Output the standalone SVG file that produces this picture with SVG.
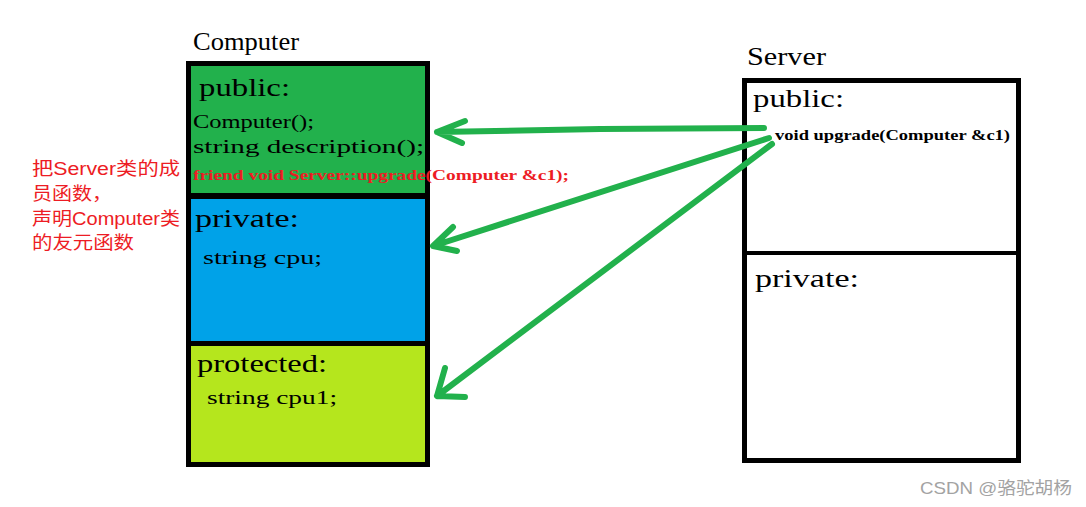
<svg xmlns="http://www.w3.org/2000/svg" width="1086" height="507" viewBox="0 0 1086 507">
<style>
.t{font-family:"Liberation Serif","Times New Roman",serif;fill:#000}
.h{font-size:25px}
.c{font-size:19px}
.b{font-size:15px;font-weight:bold}
.red{fill:#ed1c24}
.cn{font-family:"Liberation Sans","Noto Sans CJK SC",sans-serif;font-size:18px;fill:#ed1c24}
.wm{font-family:"Liberation Sans","Noto Sans CJK SC",sans-serif;font-size:17px;fill:#a3a3a3}
.arr{fill:none;stroke:#22b14c;stroke-width:6;stroke-linecap:round;stroke-linejoin:round}
</style>
<rect width="1086" height="507" fill="#fff"/>

<g id="computer">
  <text class="t h" x="193" y="50" textLength="106" lengthAdjust="spacingAndGlyphs">Computer</text>
  <rect x="186" y="61" width="244" height="406" fill="#000"/>
  <rect x="191" y="66" width="234" height="127" fill="#22b14c"/>
  <rect x="191" y="199" width="234" height="142" fill="#00a2e8"/>
  <rect x="191" y="346" width="234" height="116" fill="#b5e61d"/>
  <text class="t h" x="199" y="96" textLength="91" lengthAdjust="spacingAndGlyphs">public:</text>
  <text class="t c" x="193" y="128" textLength="121" lengthAdjust="spacingAndGlyphs">Computer();</text>
  <text class="t c" x="193" y="153" textLength="231" lengthAdjust="spacingAndGlyphs">string description();</text>
  <text class="t b red" x="193" y="180" textLength="376" lengthAdjust="spacingAndGlyphs">friend void Server::upgrade(Computer &amp;c1);</text>
  <text class="t h" x="195" y="227" textLength="104" lengthAdjust="spacingAndGlyphs">private:</text>
  <text class="t c" x="203" y="264" textLength="119" lengthAdjust="spacingAndGlyphs">string cpu;</text>
  <text class="t h" x="197" y="372" textLength="130" lengthAdjust="spacingAndGlyphs">protected:</text>
  <text class="t c" x="207" y="404" textLength="130" lengthAdjust="spacingAndGlyphs">string cpu1;</text>
</g>

<g id="server">
  <text class="t h" x="747" y="65" textLength="79" lengthAdjust="spacingAndGlyphs">Server</text>
  <rect x="742" y="78" width="279" height="385" fill="#000"/>
  <rect x="747" y="83" width="269" height="168" fill="#fff"/>
  <rect x="747" y="255" width="269" height="203" fill="#fff"/>
  <text class="t h" x="753" y="107" textLength="91" lengthAdjust="spacingAndGlyphs">public:</text>
  <text class="t b" x="775" y="140" textLength="235" lengthAdjust="spacingAndGlyphs">void upgrade(Computer &amp;c1)</text>
  <text class="t h" x="755" y="287" textLength="104" lengthAdjust="spacingAndGlyphs">private:</text>
</g>

<g id="note">
  <text class="cn" x="32" y="175" textLength="148" lengthAdjust="spacingAndGlyphs">把Server类的成</text>
  <text class="cn" x="32" y="200" textLength="80" lengthAdjust="spacingAndGlyphs">员函数，</text>
  <text class="cn" x="32" y="225" textLength="148" lengthAdjust="spacingAndGlyphs">声明Computer类</text>
  <text class="cn" x="32" y="249" textLength="102" lengthAdjust="spacingAndGlyphs">的友元函数</text>
</g>

<g id="connectors">
  <path class="arr" d="M764 128 L600 129 L437 132 M465 121 L437 132 L462 143"/>
  <path class="arr" d="M769 138 L433 246 M453 227 L433 246 L457 251"/>
  <path class="arr" d="M772 144 L437 396 M445 368 L437 396 L465 397"/>
</g>

<g id="watermark">
  <text class="wm" x="920" y="494" textLength="152" lengthAdjust="spacingAndGlyphs">CSDN @骆驼胡杨</text>
</g>
</svg>
